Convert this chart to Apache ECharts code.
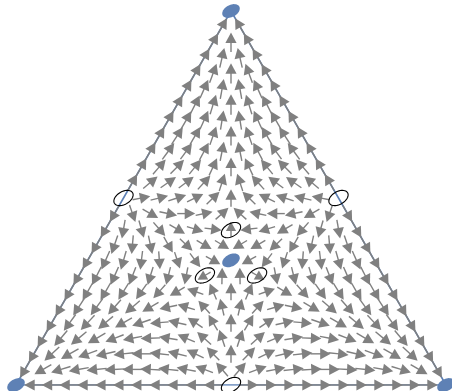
<!DOCTYPE html>
<html><head><meta charset="utf-8">
<script src="https://cdn.jsdelivr.net/npm/echarts@6/dist/echarts.min.js"></script>
<style>html,body{margin:0;padding:0;background:#fff}#c{width:452px;height:391px}</style>
</head><body><div id="c"></div>
<script>
// Lattice resolution of the simplex grid (rows from top vertex)
const N = 24;
// Arrow directions (degrees, 0 = right, 90 = up) per grid row, left to right; null = rest point
const angleRows = [
  [60,120],
  [60,90,120],
  [60,77,103,120],
  [60,70,90,110,120],
  [60,66,80,100,114,120],
  [60,63,73,90,107,117,120],
  [60,60,66,81,99,114,120,120],
  [60,57,60,71,90,109,120,123,120],
  [60,54,54,62,79,101,118,126,126,120],
  [60,49,46,51,65,90,115,129,134,131,120],
  [60,40,35,37,48,72,108,132,143,145,140,120],
  [null,11,14,18,26,44,90,136,154,162,166,169,null],
  [240,289,330,348,0,12,42,138,168,180,192,210,251,300],
  [240,260,286,311,330,343,353,90,187,197,210,229,254,280,300],
  [240,251,265,282,300,317,330,329,211,210,223,240,258,275,289,300],
  [240,246,254,263,274,288,307,331,null,209,233,252,266,277,286,294,300],
  [240,243,246,249,253,256,259,210,89,91,330,281,284,287,291,294,297,300],
  [240,240,240,238,235,228,210,161,113,90,67,19,330,312,305,302,300,300,300],
  [240,237,234,229,221,210,192,164,132,103,77,48,16,348,330,319,311,306,303,300],
  [240,234,227,220,210,199,185,167,146,120,90,60,34,13,355,341,330,320,313,306,300],
  [240,230,220,210,201,191,182,171,157,138,108,72,42,23,9,358,349,339,330,320,310,300],
  [240,223,210,200,193,186,180,174,166,155,134,90,46,25,14,6,0,354,347,340,330,317,300],
  [240,210,197,190,186,183,180,177,174,169,160,131,49,20,11,6,3,0,357,354,350,343,330,300],
  [null,180,180,180,180,180,180,180,180,180,180,180,null,0,0,0,0,0,0,0,0,0,0,0,null]
];
// Relative arrow magnitude class (0..9) per grid row
const speedRows = [
  [7,7],
  [8,7,8],
  [9,8,8,9],
  [9,8,8,8,9],
  [9,8,8,8,8,9],
  [9,8,8,8,8,8,9],
  [9,8,8,7,7,8,8,9],
  [8,8,8,7,7,7,8,8,8],
  [8,8,7,7,7,7,7,7,8,8],
  [7,7,7,6,6,6,6,6,7,7,7],
  [6,6,6,6,6,5,5,6,6,6,6,6],
  [0,5,5,6,5,5,4,5,5,6,5,5,0],
  [6,5,5,5,5,4,4,4,4,5,5,5,5,6],
  [7,6,5,5,5,4,4,1,4,4,5,5,5,6,7],
  [8,7,6,6,5,4,4,3,3,4,4,5,6,6,7,8],
  [8,8,7,6,5,4,4,3,0,3,4,4,5,6,7,8,8],
  [9,8,7,6,6,5,4,1,3,3,1,4,5,6,6,7,8,9],
  [9,8,8,7,6,5,4,4,4,4,4,4,4,5,6,7,8,8,9],
  [9,8,8,7,7,6,5,5,4,4,4,4,5,5,6,7,7,8,8,9],
  [9,8,8,7,7,7,6,6,5,5,5,5,5,6,6,7,7,7,8,8,9],
  [9,8,8,8,7,7,7,6,6,6,5,5,6,6,6,7,7,7,8,8,8,9],
  [8,8,8,8,8,8,8,7,7,6,5,5,5,6,7,7,8,8,8,8,8,8,8],
  [7,7,8,8,8,8,8,8,8,7,6,5,5,6,7,8,8,8,8,8,8,8,7,7],
  [0,7,8,9,9,9,9,9,8,8,7,6,0,6,7,8,8,9,9,9,9,9,8,7,0]
];
// Simplex corners (barycentric: top, bottom-left, bottom-right)
const corners = [[1,0,0],[0,1,0],[0,0,1]];
// Rest points
const stablePoints = [[1,0,0],[0,1,0],[0,0,1],[0.3333,0.3333,0.3333]];
const unstablePoints = [[0.5,0.5,0],[0.5,0,0.5],[0,0.5,0.5],[0.4142,0.2929,0.2929],[0.2929,0.4142,0.2929],[0.2929,0.2929,0.4142]];

const toXY = p => [p[2] + 0.5 * p[0], p[0]];

const arrowData = [];
angleRows.forEach((row, ri) => {
  const r = ri + 1;
  row.forEach((a, j) => {
    if (a === null) return;
    const b = [(N - r) / N, (r - j) / N, j / N];
    const xy = toXY(b);
    arrowData.push([xy[0], xy[1], a, speedRows[ri][j]]);
  });
});

const BLUE = '#5E81B5', GRAY = '#808080';

function ellipsePts(c, a, b, th) {
  const pts = [];
  const ct = Math.cos(th), st = Math.sin(th);
  for (let k = 0; k < 48; k++) {
    const t = k / 48 * Math.PI * 2;
    const ex = a * Math.cos(t), ey = b * Math.sin(t);
    pts.push([c[0] + ex * ct - ey * st, c[1] - (ex * st + ey * ct)]);
  }
  return pts;
}

const chart = echarts.init(document.getElementById('c'), null, {renderer: 'canvas'});
chart.setOption({
  animation: false,
  grid: {left: 16, right: 6, top: 11, bottom: 6},
  xAxis: {type: 'value', min: 0, max: 1, show: false},
  yAxis: {type: 'value', min: 0, max: 1, show: false},
  series: [
    {
      type: 'line', z: 1, symbol: 'none', silent: true,
      data: corners.concat([corners[0]]).map(toXY),
      lineStyle: {color: BLUE, width: 1.6}
    },
    {
      type: 'custom', z: 2, silent: true,
      data: arrowData,
      renderItem: function (params, api) {
        const c = api.coord([api.value(0), api.value(1)]);
        const ang = api.value(2) * Math.PI / 180;
        const s = api.value(3);
        const L = 21 * (0.68 + 0.32 * s / 9);
        const ux = Math.cos(ang), uy = -Math.sin(ang);
        const tail = [c[0] - ux * L / 2, c[1] - uy * L / 2];
        const tip = [c[0] + ux * L / 2, c[1] + uy * L / 2];
        const hl = Math.min(10.5, L * 0.62), hw = Math.min(5.6, hl * 0.55);
        const base = [tip[0] - ux * hl, tip[1] - uy * hl];
        const px = -uy, py = ux;
        return {
          type: 'group',
          children: [
            {type: 'line', shape: {x1: tail[0], y1: tail[1], x2: base[0] + ux, y2: base[1] + uy},
             style: {stroke: GRAY, lineWidth: 1.4}},
            {type: 'polygon', shape: {points: [tip, [base[0] + px * hw, base[1] + py * hw], [base[0] - px * hw, base[1] - py * hw]]},
             style: {fill: GRAY}}
          ]
        };
      }
    },
    {
      type: 'custom', z: 3, silent: true,
      data: unstablePoints.map(toXY),
      renderItem: function (params, api) {
        const c = api.coord([api.value(0), api.value(1)]);
        return {type: 'polygon', shape: {points: ellipsePts(c, 10.5, 6.4, 30 * Math.PI / 180)},
                style: {fill: 'none', stroke: '#000', lineWidth: 1.1}};
      }
    },
    {
      type: 'custom', z: 4, silent: true,
      data: stablePoints.map(toXY),
      renderItem: function (params, api) {
        const c = api.coord([api.value(0), api.value(1)]);
        return {type: 'polygon', shape: {points: ellipsePts(c, 9.4, 6, 28 * Math.PI / 180)},
                style: {fill: BLUE}};
      }
    }
  ]
});
</script></body></html>
